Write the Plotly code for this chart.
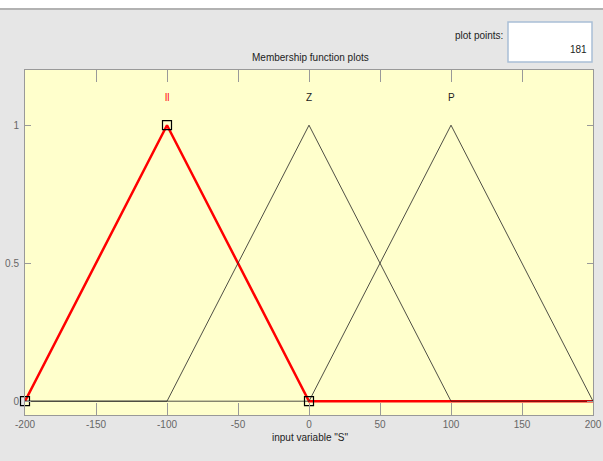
import plotly.graph_objects as go

# Data
x_range = [-200, 200]
mf_names = ["ll", "Z", "P"]
mf_params = [[-200, -100, 0], [-100, 0, 100], [0, 100, 200]]
selected = 0
x_ticks = [-200, -150, -100, -50, 0, 50, 100, 150, 200]
x_tick_text = ["-200", "-150", "-100", "-50", "0", "50", "100", "150", "200"]
y_ticks = [0, 0.5, 1]
y_tick_text = ["0", "0.5", "1"]
plot_points = "181"

FONT = "Liberation Sans Narrow, Liberation Sans, Arial, sans-serif"

L, R, T, B = 25, 10, 70, 46
W, H = 603, 461
PW, PH = W - L - R, H - T - B

def px(x):
    return (x - L) / PW

def py(y):
    return (H - B - y) / PH

fig = go.Figure()

def mf_xy(p):
    xs = [x_range[0], p[0], p[1], p[2], x_range[1]]
    ys = [0, 0, 1, 0, 0]
    return xs, ys

# selected MF first (red, thick)
xs, ys = mf_xy(mf_params[selected])
fig.add_trace(go.Scatter(x=xs, y=ys, mode="lines",
                         line=dict(color="#ff0000", width=2.5), hoverinfo="skip"))
for i, p in enumerate(mf_params):
    if i == selected:
        continue
    xs, ys = mf_xy(p)
    fig.add_trace(go.Scatter(x=xs, y=ys, mode="lines",
                             line=dict(color="#222222", width=0.8), hoverinfo="skip"))

# square markers on selected MF vertices
p = mf_params[selected]
fig.add_trace(go.Scatter(x=p, y=[0, 1, 0], mode="markers",
                         marker=dict(symbol="square-open", size=9, color="black",
                                     line=dict(width=1.2, color="black")),
                         hoverinfo="skip", cliponaxis=False))

# MF labels
for i, (name, p) in enumerate(zip(mf_names, mf_params)):
    fig.add_annotation(x=p[1], y=1.1, text=name, showarrow=False,
                       font=dict(family=FONT, size=10,
                                 color="#ff0000" if i == selected else "#222222"))

# top white strip and border
fig.add_shape(type="rect", xref="paper", yref="paper", x0=px(-5), x1=px(610),
              y0=py(8), y1=py(-5), fillcolor="white", line=dict(width=0), layer="below")
fig.add_shape(type="line", xref="paper", yref="paper", x0=px(-5), x1=px(610),
              y0=py(9), y1=py(9), line=dict(color="#a0a0a0", width=1.5))

# plot points box
fig.add_shape(type="rect", xref="paper", yref="paper", x0=px(508), x1=px(592),
              y0=py(62), y1=py(22),
              fillcolor="white", line=dict(color="#a9bfd6", width=1.5))
fig.add_annotation(xref="paper", yref="paper", x=px(589), y=py(42),
                   text=plot_points, showarrow=False, xanchor="right",
                   font=dict(family=FONT, size=10, color="#222222"))
fig.add_annotation(xref="paper", yref="paper", x=px(505), y=py(28),
                   text="plot points:", showarrow=False, xanchor="right",
                   font=dict(family=FONT, size=10, color="#222222"))
fig.add_annotation(xref="paper", yref="paper", x=px(310), y=py(50),
                   text="Membership function plots", showarrow=False,
                   font=dict(family=FONT, size=10, color="#222222"))
fig.add_annotation(xref="paper", yref="paper", x=px(310), y=py(445),
                   text='input variable "S"', showarrow=False,
                   font=dict(family=FONT, size=10, color="#222222"))

fig.update_layout(
    width=W, height=H,
    margin=dict(l=L, r=R, t=T, b=B),
    paper_bgcolor="#e6e6e6",
    plot_bgcolor="#ffffcc",
    showlegend=False,
    font=dict(family=FONT, size=10, color="#555555"),
    xaxis=dict(range=x_range, tickvals=x_ticks, ticktext=x_tick_text,
               ticks="inside", ticklen=12, automargin=False,
               tickcolor="#999999", mirror="ticks", showline=True, linecolor="#999999",
               linewidth=1, showgrid=False, zeroline=False,
               tickfont=dict(family=FONT, size=10, color="#666666")),
    yaxis=dict(range=[-0.05, 1.2], tickvals=y_ticks, ticktext=y_tick_text,
               ticks="inside", ticklen=6, tickcolor="#999999", mirror="ticks",
               showline=True, linecolor="#999999", linewidth=1, showgrid=False,
               zeroline=False, automargin=False, ticklabelstandoff=3,
               tickfont=dict(family=FONT, size=10, color="#666666")),
)

fig.write_html(
    "out.html",
    config={"displayModeBar": False},
    post_script="document.body.style.margin='0';document.body.style.overflow='hidden';"
                "document.body.style.background='#e6e6e6';",
)
